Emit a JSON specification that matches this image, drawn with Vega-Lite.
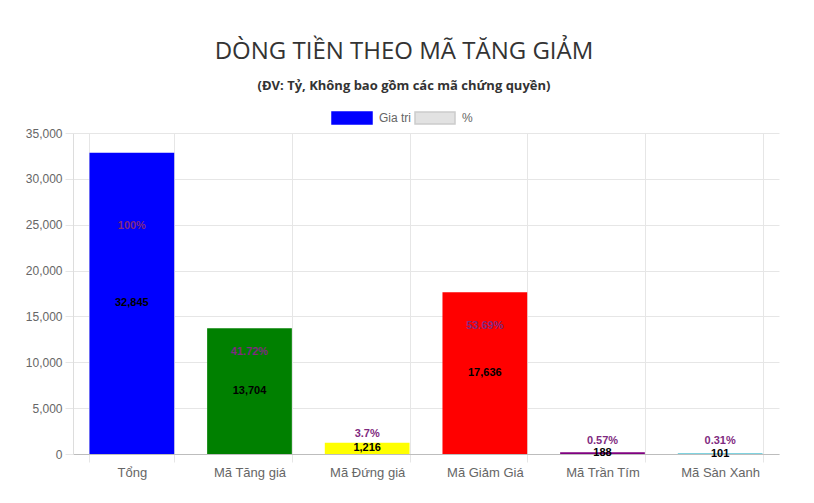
{
  "$schema": "https://vega.github.io/schema/vega-lite/v6.json",
  "width": 706,
  "height": 321,
  "autosize": "none",
  "padding": {"left": 73, "top": 133, "right": 35, "bottom": 49},
  "background": "white",
  "title": {
    "text": "DÒNG TIỀN THEO MÃ TĂNG GIẢM",
    "subtitle": "(ĐV: Tỷ, Không bao gồm các mã chứng quyền)",
    "anchor": "middle",
    "frame": "group",
    "dx": -22,
    "offset": 4,
    "font": "Open Sans",
    "fontSize": 24,
    "fontWeight": "normal",
    "color": "#333333",
    "subtitleFont": "Open Sans",
    "subtitleFontSize": 13,
    "subtitleFontWeight": "bold",
    "subtitleColor": "#333333",
    "subtitlePadding": 16
  },
  "datasets": {
    "main": [
      {"category": "Tổng", "value": 32845, "pct": 1.0},
      {"category": "Mã Tăng giá", "value": 13704, "pct": 0.4172},
      {"category": "Mã Đứng giá", "value": 1216, "pct": 0.037},
      {"category": "Mã Giảm Giá", "value": 17636, "pct": 0.5369},
      {"category": "Mã Trần Tím", "value": 188, "pct": 0.0057},
      {"category": "Mã Sàn Xanh", "value": 101, "pct": 0.0031}
    ],
    "legend": [
      {"series": "Gia tri"},
      {"series": "%"}
    ]
  },
  "resolve": {"scale": {"y": "independent"}},
  "layer": [
    {
      "data": {"name": "main"},
      "mark": {"type": "bar"},
      "encoding": {
        "x": {
          "field": "category", "type": "nominal", "sort": null,
          "scale": {"paddingInner": 0.28, "paddingOuter": 0.14},
          "axis": {
            "title": null, "labelAngle": 0, "tickBand": "extent", "grid": true,
            "gridColor": "#e6e6e6", "tickColor": "#e6e6e6", "tickSize": 8,
            "domainColor": "#bdbdbd", "labelFont": "Arial", "labelFontSize": 13,
            "labelColor": "#666666", "labelPadding": 4
          }
        },
        "y": {
          "field": "value", "type": "quantitative",
          "scale": {"domain": [0, 35000], "nice": false},
          "axis": {
            "title": null, "values": [0, 5000, 10000, 15000, 20000, 25000, 30000, 35000],
            "format": ",.0f", "gridColor": "#e6e6e6", "tickColor": "#e6e6e6", "tickSize": 8,
            "domainColor": "#dddddd", "labelFont": "Arial", "labelFontSize": 12,
            "labelColor": "#666666", "labelPadding": 3
          }
        },
        "color": {
          "field": "category", "type": "nominal", "sort": null,
          "scale": {
            "domain": ["Tổng", "Mã Tăng giá", "Mã Đứng giá", "Mã Giảm Giá", "Mã Trần Tím", "Mã Sàn Xanh"],
            "range": ["#0000ff", "#008000", "#ffff00", "#ff0000", "#800080", "#7fd3e0"]
          },
          "legend": null
        }
      }
    },
    {
      "data": {"name": "main"},
      "mark": {"type": "text", "font": "Arial", "fontSize": 11, "fontWeight": "bold", "color": "#7f2a80", "baseline": "middle", "dy": -12},
      "encoding": {
        "x": {"field": "category", "type": "nominal", "sort": null},
        "y": {"field": "pct", "type": "quantitative", "scale": {"domain": [0, 1.485], "nice": false}, "axis": null},
        "text": {"field": "pct", "type": "quantitative", "format": ".2~%"}
      }
    },
    {
      "data": {"name": "main"},
      "mark": {"type": "text", "font": "Arial", "fontSize": 11, "fontWeight": "bold", "color": "#000000", "baseline": "middle"},
      "encoding": {
        "x": {"field": "category", "type": "nominal", "sort": null},
        "y": {"field": "value", "type": "quantitative", "scale": {"domain": [0, 70000], "nice": false}, "axis": null},
        "text": {"field": "value", "type": "quantitative", "format": ","}
      }
    },
    {
      "data": {"name": "legend"},
      "mark": {"type": "point", "filled": true, "size": 0, "opacity": 1, "fillOpacity": 1, "strokeWidth": 1.5},
      "encoding": {
        "fill": {
          "field": "series", "type": "nominal", "sort": null,
          "scale": {"domain": ["Gia tri", "%"], "range": ["#0000ff", "#e2e2e2"]},
          "legend": {
            "orient": "none", "legendX": 258, "legendY": -36, "direction": "horizontal",
            "title": null, "symbolType": "M-1,-0.3H1V0.3H-1Z", "symbolSize": 1600,
            "symbolOpacity": 1, "symbolStrokeWidth": 1.5, "labelFont": "Arial", "labelFontSize": 12,
            "labelColor": "#666666", "columnPadding": 0, "labelOffset": 6
          }
        },
        "stroke": {
          "field": "series", "type": "nominal", "sort": null,
          "scale": {"domain": ["Gia tri", "%"], "range": ["#0000ff", "#cccccc"]}
        }
      }
    }
  ],
  "config": {"view": {"stroke": null}}
}
